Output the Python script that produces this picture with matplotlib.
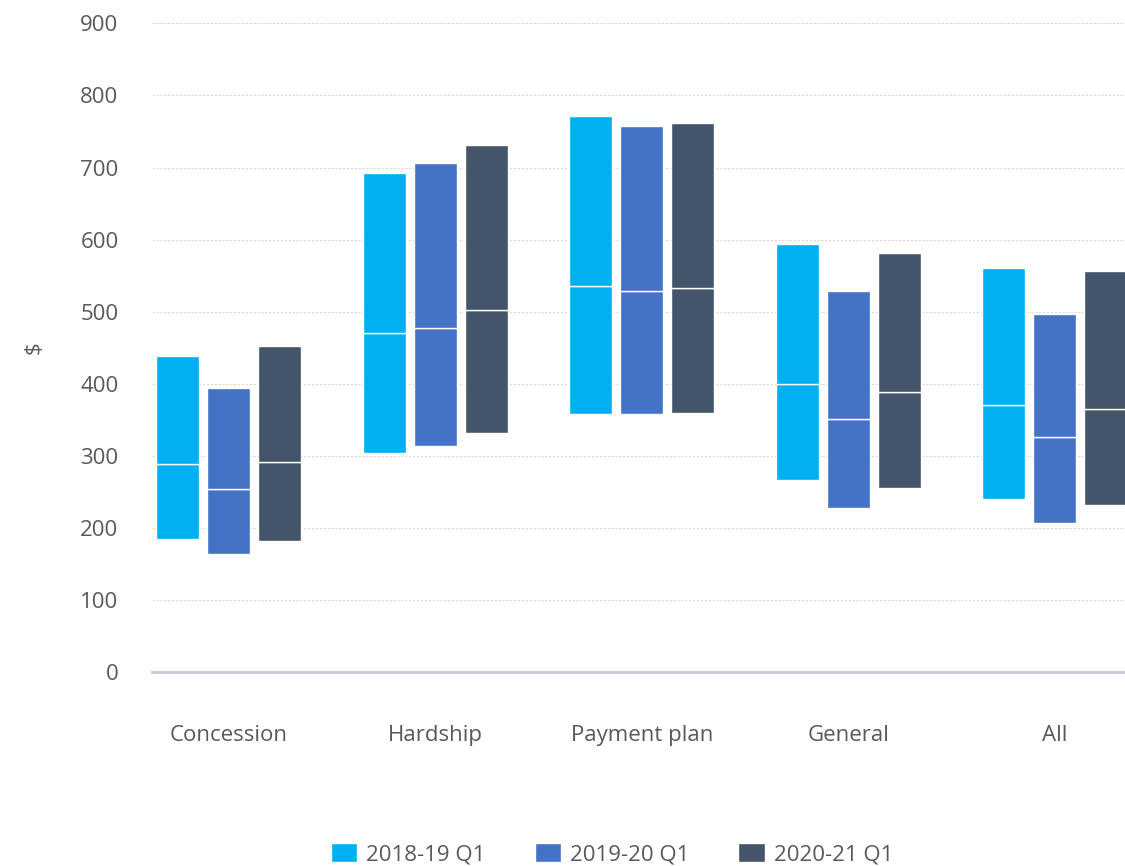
import matplotlib.pyplot as plt
import numpy as np

categories = ["Concession", "Hardship", "Payment plan", "General", "All"]
series = ["2018-19 Q1", "2019-20 Q1", "2020-21 Q1"]
colors = ["#00B0F0", "#4472C4", "#44546A"]

# low / median / high per series, one value per category
low = [
    [185, 304, 358, 266, 240],
    [164, 313, 358, 228, 207],
    [182, 332, 359, 256, 232],
]
median = [
    [288, 471, 536, 399, 371],
    [254, 477, 529, 351, 326],
    [292, 503, 533, 389, 365],
]
high = [
    [438, 693, 771, 594, 561],
    [394, 706, 757, 528, 497],
    [453, 731, 762, 582, 556],
]

plt.rcParams['font.family'] = ['Open Sans', 'DejaVu Sans']

fig = plt.figure(figsize=(11.25, 8.66), dpi=100)
ax = fig.add_axes([0.135, 0.224, 0.865, 0.749])

x = np.arange(len(categories))
width = 0.208
step = 0.247

for i, name in enumerate(series):
    xs = x + (i - 1) * step
    lo = np.array(low[i])
    md = np.array(median[i])
    hi = np.array(high[i])
    # lower box (low -> median) and upper box (median -> high)
    ax.bar(xs, md - lo, width, bottom=lo, color=colors[i], edgecolor="white",
           linewidth=1.0, zorder=3, label=name)
    ax.bar(xs, hi - md, width, bottom=md, color=colors[i], edgecolor="white",
           linewidth=1.0, zorder=3)

ax.set_xlim(-0.373, 4.34)
ax.set_ylim(0, 900)
ax.set_yticks(np.arange(0, 901, 100))
ax.set_xticks(x)
ax.set_xticklabels(categories)

ax.grid(axis="y", color="#D9D9D9", linestyle=(0, (2, 1.5)), linewidth=0.8, zorder=0)
for s in ["top", "right", "left"]:
    ax.spines[s].set_visible(False)
ax.spines["bottom"].set_color("#C3CBD8")
ax.spines["bottom"].set_linewidth(2)
ax.spines["bottom"].set_zorder(4)

ax.tick_params(axis="both", length=0, labelsize=16, labelcolor="#595959")
ax.tick_params(axis="y", pad=24)
ax.tick_params(axis="x", pad=38)
ax.set_ylabel("$", fontsize=16, color="#595959", labelpad=26)

leg = fig.legend(loc="lower center", bbox_to_anchor=(0.544, -0.022), ncol=3,
                 frameon=False, fontsize=16, handlelength=1.2, handleheight=0.9,
                 handletextpad=0.4, columnspacing=2.2, labelcolor="#595959")

fig.savefig("out.png", dpi=100)
